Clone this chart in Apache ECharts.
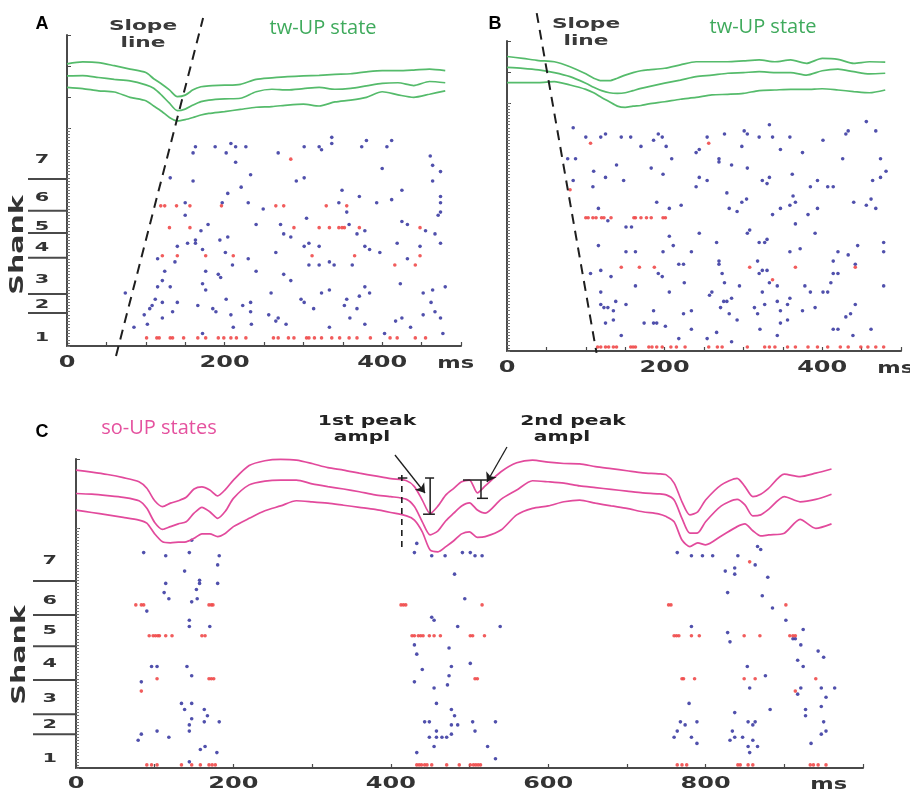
<!DOCTYPE html>
<html><head><meta charset="utf-8">
<script src="https://cdn.jsdelivr.net/npm/echarts@6/dist/echarts.min.js"></script>
<style>html,body{margin:0;padding:0;background:#fff}#c{width:910px;height:792px}</style>
</head><body><div id="c"></div>
<script>
// ---------------- colours ----------------
const GREEN = '#55bb6b', GREEN_T = '#3faa5c', PINK = '#e24a9c', PINK_T = '#e5529f';
const BLUE = '#3d3da3', RED = '#ef4a4a', AX = '#4a4a4a', TXT = '#2a2a2a';

// ---------------- Panel A ----------------
const tA = [0,20,40,60,80,100,110,120,130,140,150,160,170,180,200,220,240,260,280,300,320,340,360,380,400,420,440,460,480];
const lfpA1 = [2.07,2.13,2.11,2.01,1.90,1.79,1.59,1.42,1.23,1.01,1.06,1.23,1.33,1.36,1.38,1.41,1.57,1.62,1.66,1.68,1.70,1.73,1.75,1.81,1.85,1.85,1.87,1.90,1.85];
const lfpA2 = [1.68,1.69,1.63,1.57,1.52,1.39,1.28,1.06,0.80,0.56,0.61,0.74,0.85,0.90,0.94,0.96,1.17,1.25,1.23,1.27,1.31,1.25,1.28,1.36,1.44,1.46,1.37,1.50,1.46];
const lfpA3 = [1.31,1.27,1.20,1.16,0.99,0.88,0.71,0.54,0.34,0.23,0.27,0.34,0.42,0.47,0.53,0.60,0.67,0.69,0.74,0.77,0.71,0.84,0.90,0.99,1.17,1.07,0.99,1.09,1.20];
const blueA = [[163,64],[188,64],[202,62],[208,65],[214,64],[227,64],[160,62],[214,59],[131,54],[233,55],[160,53],[221,51],[204,49],[150,46],[197,46],[230,46],[150,42],[179,39],[240,39],[170,37],[140,32],[153,33],[163,34],[163,33],[172,31],[194,34],[204,35],[115,28],[137,27],[201,30],[210,26],[230,28],[124,24],[176,24],[121,21],[192,23],[195,22],[240,24],[172,20],[115,19],[131,19],[176,18],[74,17],[112,15],[108,13],[105,12],[121,14],[140,14],[202,15],[166,13],[134,11],[185,12],[189,11],[223,13],[233,14],[233,11],[98,10],[208,10],[121,9],[102,7],[85,6],[211,6],[234,7],[172,4],
[336,67],[336,65],[380,66],[412,66],[268,62],[301,64],[320,64],[323,63],[374,64],[406,64],[461,61],[464,58],[474,56],[400,57],[291,53],[301,54],[464,53],[349,50],[425,50],[371,48],[412,47],[474,48],[474,46],[393,46],[345,46],[249,44],[355,43],[471,42],[474,43],[304,41],[425,40],[432,39],[271,39],[358,39],[275,36],[284,35],[368,36],[378,37],[455,37],[467,36],[419,33],[474,33],[265,30],[301,32],[307,33],[320,32],[378,32],[384,31],[397,30],[448,32],[432,28],[307,26],[320,26],[333,27],[339,26],[362,26],[275,23],[284,21],[423,20],[259,17],[323,17],[333,18],[378,19],[384,17],[371,16],[452,17],[464,18],[480,19],[297,15],[301,14],[355,15],[352,13],[462,14],[313,12],[368,12],[467,11],[256,10],[268,9],[265,8],[278,7],[359,9],[417,8],[425,9],[452,10],[474,9],[333,6],[378,7],[436,6],[403,4],[477,4]];
const redA = [[284,60],
[119,45],[124,45],[139,45],[156,45],[196,45],[265,45],[275,45],[329,45],[355,45],
[130,38],[156,38],[288,38],[320,38],[333,38],[345,38],[349,38],[352,38],[371,38],[448,38],
[121,29],[140,29],[176,29],[211,29],[311,29],[365,29],[448,29],
[416,26],[442,26],
[101,2.6],[114,2.6],[117,2.6],[131,2.6],[134,2.6],[148,2.6],[166,2.6],[176,2.6],[192,2.6],[199,2.6],[208,2.6],[215,2.6],[227,2.6],[262,2.6],[268,2.6],[281,2.6],[288,2.6],[304,2.6],[307,2.6],[314,2.6],[323,2.6],[336,2.6],[346,2.6],[358,2.6],[368,2.6],[385,2.6],[410,2.6],[419,2.6],[442,2.6],[455,2.6]];
const slopeA = [[62.2,-3.2],[172.7,105.3]];
const shankSepA = [53.6,43.4,36.3,28.3,16.7,10.6];
const shankPosA = [59.7,47.8,38.2,31.5,21.2,13.2,2.6];
const xTicksA = [0,200,400];

// ---------------- Panel B ----------------
const tB = [0,20,40,60,80,100,110,120,130,140,150,160,170,180,200,220,240,260,280,300,320,340,360,380,400,420,440,460,480];
const lfpB1 = [1.50,1.44,1.37,1.33,1.17,0.94,0.80,0.72,0.72,0.80,0.90,0.98,1.04,1.07,1.12,1.23,1.33,1.33,1.33,1.36,1.39,1.33,1.39,1.28,1.44,1.41,1.28,1.33,1.32];
const lfpB2 = [1.15,1.12,1.07,0.98,0.85,0.64,0.51,0.40,0.33,0.31,0.33,0.40,0.47,0.53,0.64,0.74,0.85,0.90,0.96,0.98,1.01,0.98,0.98,0.90,1.04,1.09,1.01,0.94,0.96];
const lfpB3 = [0.66,0.66,0.66,0.69,0.58,0.44,0.33,0.18,0.04,-0.10,-0.14,-0.10,-0.08,-0.03,0.04,0.12,0.18,0.26,0.28,0.31,0.40,0.42,0.44,0.44,0.46,0.42,0.37,0.33,0.42];
const blueB = [[84,72],[100,69],[119,69],[125,70],[145,69],[157,69],[186,68],[192,70],[197,69],[170,66],[202,66],[77,62],[87,62],[209,62],[139,60],[183,59],[110,58],[198,57],[125,56],[148,55],[84,55],[109,53],[240,53],[190,48],[116,46],[206,46],[221,47],[128,42],[151,40],[158,40],[206,37],[116,34],[211,34],[151,32],[163,32],[198,32],[234,32],[218,28],[224,28],[106,25],[119,26],[132,24],[192,25],[197,24],[225,22],[163,21],[119,19],[206,19],[138,16],[119,15],[123,14],[128,14],[135,13],[151,15],[186,13],[224,12],[234,13],[135,10],[125,9],[174,9],[186,9],[190,9],[201,8],[234,7],[145,5],[218,4],[240,64],
[333,73],[456,74],[254,69],[276,70],[301,71],[305,70],[320,69],[337,69],[359,69],[401,68],[430,70],[433,71],[468,71],[244,65],[298,66],[347,65],[269,62],[269,61],[285,60],[305,59],[375,64],[426,62],[474,62],[481,58],[474,56],[464,55],[244,56],[254,55],[324,55],[330,54],[333,56],[362,57],[394,55],[385,53],[407,53],[414,53],[279,51],[304,49],[298,48],[282,46],[292,45],[347,46],[363,50],[366,48],[359,47],[337,44],[382,44],[394,46],[440,48],[456,47],[462,49],[468,46],[366,41],[244,38],[305,38],[308,39],[391,38],[266,35],[320,35],[327,35],[330,36],[359,32],[372,33],[420,32],[433,31],[445,34],[478,35],[478,32],[269,29],[269,28],[318,29],[414,29],[442,28],[273,25],[320,25],[324,26],[330,26],[414,25],[420,25],[276,22],[295,21],[333,22],[343,21],[378,21],[411,22],[478,21],[257,18],[260,19],[275,16],[279,16],[271,14],[285,17],[282,12],[292,10],[324,19],[327,15],[318,12],[343,16],[347,13],[359,17],[356,15],[347,9],[356,10],[321,7],[343,5],[375,13],[385,19],[391,14],[401,19],[407,19],[414,7],[420,7],[430,11],[436,12],[442,15],[439,5],[462,7],[254,4],[266,6],[285,3],[314,14]];
const redB = [[106,67],[256,67],[80,52],[337,23],
[100,43],[103,43],[109,43],[113,43],[120,43],[123,43],[132,43],[161,43],[163,43],[170,43],[177,43],[183,43],[198,43],[201,43],
[145,27],[168,27],[187,27],[308,27],[366,27],[442,27],
[115,1.3],[119,1.3],[125,1.3],[129,1.3],[135,1.3],[139,1.3],[157,1.3],[160,1.3],[163,1.3],[180,1.3],[184,1.3],[190,1.3],[197,1.3],[208,1.3],[215,1.3],[226,1.3],[256,1.3],[267,1.3],[273,1.3],[305,1.3],[327,1.3],[333,1.3],[340,1.3],[356,1.3],[366,1.3],[382,1.3],[394,1.3],[407,1.3],[423,1.3],[433,1.3],[449,1.3],[458,1.3],[468,1.3],[478,1.3]];
const slopeB = [[37.7,109],[113.6,-0.6]];
const xTicksB = [0,200,400];

// ---------------- Panel C ----------------
const tC = [0,20,40,60,80,90,100,110,120,130,140,150,160,170,180,190,200,220,240,260,280,300,320,340,360,380,400,420,430,440,450,460,470,480,490,500,510,520,540,560,580,600,620,640,660,680,700,720,740,750,760,770,780,790,800,820,840,850,860,870,880,900,920,940,960];
const lfpC1 = [1.68,1.62,1.55,1.46,1.34,1.15,0.79,0.62,0.72,0.79,0.89,1.13,1.19,1.10,0.93,1.12,1.39,1.81,1.95,1.99,1.97,1.87,1.75,1.68,1.59,1.51,1.43,1.37,1.20,0.81,0.42,0.64,0.96,1.15,1.34,1.39,1.02,1.22,1.63,1.89,1.97,1.91,1.87,1.86,1.78,1.72,1.66,1.60,1.57,1.54,1.30,0.76,0.38,0.47,0.81,1.25,1.44,1.20,0.91,0.98,1.15,1.56,1.49,1.59,1.71];
const lfpC2 = [1.00,0.98,0.94,0.89,0.79,0.57,0.16,-0.04,0.04,0.12,0.18,0.43,0.60,0.47,0.28,0.49,0.86,1.25,1.36,1.39,1.39,1.28,1.20,1.13,1.05,0.96,0.91,0.83,0.62,0.18,-0.20,-0.08,0.21,0.43,0.64,0.73,0.52,0.43,0.83,1.10,1.37,1.34,1.30,1.22,1.17,1.12,1.07,1.02,0.99,0.96,0.81,0.28,-0.15,-0.14,0.18,0.64,0.83,0.67,0.35,0.38,0.54,0.91,0.76,0.83,0.98];
const lfpC3 = [0.52,0.45,0.38,0.31,0.23,0.14,-0.17,-0.40,-0.43,-0.41,-0.40,-0.30,-0.17,-0.17,-0.25,-0.15,0.04,0.28,0.50,0.64,0.79,0.76,0.72,0.66,0.60,0.54,0.45,0.35,0.23,-0.11,-0.64,-0.69,-0.54,-0.37,-0.17,-0.11,-0.27,-0.25,-0.06,0.38,0.57,0.64,0.76,0.81,0.72,0.64,0.57,0.47,0.41,0.33,0.18,-0.35,-0.54,-0.43,-0.49,-0.23,0.04,0.12,-0.08,-0.23,-0.20,-0.15,0.25,-0.01,0.12];
const blueC = [[86,70],[114,69],[144,70],[182,69],[180,66],[138,64],[114,60],[157,61],[157,60],[180,60],[112,57],[153,58],[118,55],[147,54],[154,55],[90,51],[144,48],[144,46],[170,46],[96,33],[103,33],[141,33],[147,30],[83,28],[134,21],[147,21],[138,19],[163,19],[167,17],[147,16],[163,15],[182,15],[144,14],[144,12],[103,12],[83,11],[79,9],[118,10],[158,6],[164,7],[179,5],[144,2],[147,74],
[430,70],[433,73],[452,69],[469,69],[491,70],[501,70],[507,69],[516,69],[481,63],[494,55],[452,49],[455,48],[485,46],[539,46],[430,40],[474,39],[433,37],[501,34],[477,33],[440,32],[474,30],[430,28],[472,27],[455,26],[458,21],[477,19],[481,17],[443,15],[449,15],[477,14],[485,14],[504,15],[533,15],[507,12],[458,12],[449,10],[458,10],[465,10],[471,10],[477,11],[455,7],[523,7],[433,5],[533,3],
[764,70],[782,69],[796,69],[809,69],[841,69],[837,65],[837,63],[825,64],[863,66],[866,72],[870,71],[879,62],[828,57],[872,56],[885,52],[902,48],[782,46],[924,45],[828,44],[831,41],[911,42],[914,42],[921,40],[943,38],[950,36],[917,35],[924,33],[853,33],[876,30],[856,26],[921,26],[947,26],[964,26],[917,24],[953,23],[947,20],[779,21],[882,19],[927,19],[927,17],[837,18],[768,15],[774,14],[789,15],[764,12],[760,10],[782,10],[789,8],[854,15],[863,15],[860,14],[834,12],[837,10],[847,10],[831,9],[860,9],[866,7],[854,7],[856,5],[950,15],[953,12],[947,11],[934,8]];
const redC = [[856,67],[83,25],[914,25],
[76,53],[83,53],[86,53],[169,53],[172,53],[174,53],[413,53],[416,53],[419,53],[516,53],[753,53],[756,53],[902,53],
[93,43],[98,43],[101,43],[104,43],[106,43],[114,43],[122,43],[160,43],[164,43],[427,43],[430,43],[435,43],[438,43],[441,43],[449,43],[455,43],[463,43],[501,43],[504,43],[519,43],[760,43],[763,43],[766,43],[782,43],[792,43],[849,43],[869,43],[907,43],[911,43],[914,43],
[103,29],[169,29],[172,29],[175,29],[507,29],[510,29],[770,29],[772,29],[786,29],[849,29],[863,29],[940,29],
[90,1],[96,1],[103,1],[134,1],[147,1],[158,1],[169,1],[173,1],[177,1],[433,1],[436,1],[439,1],[443,1],[446,1],[452,1],[471,1],[487,1],[501,1],[505,1],[508,1],[511,1],[514,1],[764,1],[770,1],[776,1],[841,1],[844,1],[854,1],[860,1],[933,1],[937,1],[943,1],[953,1]];
const shankSepC = [60.8,49.7,39.6,28.6,17.5,11.0];
const shankPosC = [67.3,54.3,44.8,33.8,22.7,14.0,2.9];
const xTicksC = [0,200,400,600,800];
// annotation values (ms, LFP units)
const peakBars = [
  [[450,1.449],[450,0.40]], [[443.5,1.449],[455,1.449]], [[441,0.40],[456,0.40]], [[409,1.449],[421,1.449]],
  [[491.7,1.391],[522.2,1.391]], [[514.6,1.391],[514.6,0.86]], [[509.5,0.86],[523.5,0.86]]
];
const peakDash = [[414,1.536],[414,-0.58]];
const arrowsC = [ [[405.3,2.116],[443.5,1.014]], [[547.6,2.348],[522.2,1.333]] ];
const shankNames = ['7','6','5','4','3','2','1'];

// ---------------- chart ----------------
const chart = echarts.init(document.getElementById('c'));
const grids = [
  {left:67, top:35, width:394, height:93},     // 0 A LFP
  {left:67, top:128, width:394, height:218},   // 1 A raster
  {left:28, top:128, width:39, height:218},    // 2 A shank labels
  {left:507, top:41, width:394, height:62},    // 3 B LFP
  {left:507, top:103, width:394, height:248},  // 4 B raster
  {left:76, top:459, width:787, height:69},    // 5 C LFP
  {left:76, top:528, width:787, height:240},   // 6 C raster
  {left:33, top:528, width:43, height:240},    // 7 C shank labels
  {left:76, top:390, width:787, height:179.4}  // 8 C annotation overlay
];
const hidden = {show:false};
function xAx(gi, max, interval, show){
  return {gridIndex:gi, type:'value', min:0, max:max, interval:interval, show:show,
    axisLine:{onZero:false, lineStyle:{color:AX, width:2}},
    axisTick:{inside:true, length:4, lineStyle:{color:AX, width:1.2}},
    axisLabel:hidden, splitLine:hidden};
}
function yAx(gi, min, max, tickLen, tickColor, show){
  return {gridIndex:gi, type:'value', min:min, max:max, interval:1, show:show,
    axisLine:{show:true, onZero:false, lineStyle:{color:AX, width:2}},
    axisTick:{inside:true, length:tickLen, lineStyle:{color:tickColor, width:1}},
    axisLabel:hidden, splitLine:hidden};
}
const xAxis = [xAx(0,500,50,false), xAx(1,500,50,true), xAx(2,1,1,false), xAx(3,500,50,false), xAx(4,500,50,true),
               xAx(5,1000,100,false), xAx(6,1000,100,true), xAx(7,1,1,false), xAx(8,1000,100,false)];
const yAxis = [yAx(0,0,3,4,AX,true), yAx(1,0,70,3,'#777',true), yAx(2,0,70,3,AX,false),
               yAx(3,0,2,4,AX,true), yAx(4,0,80,3,'#777',true),
               yAx(5,0,2,4,AX,true), yAx(6,0,78,3,'#777',true), yAx(7,0,78,3,AX,false),
               {gridIndex:8, type:'value', min:-1.2, max:4, show:false}];

const S = [];
function lfp(gi, t, v, color){
  S.push({type:'line', xAxisIndex:gi, yAxisIndex:gi, data:t.map((x,i)=>[x, v[i]]), symbol:'none', showSymbol:false,
    clip:false, smooth:0.25, silent:true, z:4, lineStyle:{color:color, width:1.7}});
}
function dots(gi, pts, color){
  S.push({type:'scatter', xAxisIndex:gi, yAxisIndex:gi, data:pts, symbol:'circle', symbolSize:3.6,
    silent:true, z:3, itemStyle:{color:color, opacity:0.9}});
}
function seg(gi, pts, width, dash, extra){
  S.push(Object.assign({type:'line', xAxisIndex:gi, yAxisIndex:gi, data:pts, symbol:'none', showSymbol:false,
    clip:false, silent:true, z:6, lineStyle:{color:'#1e1e1e', width:width, type:dash || 'solid'}}, extra || {}));
}
lfp(0,tA,lfpA1,GREEN); lfp(0,tA,lfpA2,GREEN); lfp(0,tA,lfpA3,GREEN);
dots(1,blueA,BLUE); dots(1,redA,RED);
seg(1,slopeA,2,[10,7]);
shankSepA.forEach(s=>seg(2,[[0,s],[1,s]],2,'solid',{lineStyle:{color:AX,width:2}}));

lfp(3,tB,lfpB1,GREEN); lfp(3,tB,lfpB2,GREEN); lfp(3,tB,lfpB3,GREEN);
dots(4,blueB,BLUE); dots(4,redB,RED);
seg(4,slopeB,2,[10,7]);

lfp(5,tC,lfpC1,PINK); lfp(5,tC,lfpC2,PINK); lfp(5,tC,lfpC3,PINK);
dots(6,blueC,BLUE); dots(6,redC,RED);
shankSepC.forEach(s=>seg(7,[[0,s],[1,s]],2,'solid',{lineStyle:{color:AX,width:2}}));
peakBars.forEach((p,i)=>seg(8,p,1.5,'solid', i===0 ? {markLine:{silent:true, symbol:['none','arrow'], symbolSize:9,
  label:{show:false}, lineStyle:{color:'#1e1e1e', width:1.3, type:'solid'},
  data:arrowsC.map(a=>[{coord:a[0]},{coord:a[1]}])}} : null));
seg(8,peakDash,1.6,[6,5]);

chart.setOption({animation:false, backgroundColor:'#fff', grid:grids, xAxis:xAxis, yAxis:yAxis, series:S});

// ---------------- texts ----------------
const G = [];
function txt(x, y, text, o){
  o = o || {};
  G.push({type:'text', x:x, y:y, scaleX:o.sx || 1, rotation:o.rot || 0, silent:true, z:100,
    style:{text:text, font:o.font || '15px "DejaVu Sans"', fill:o.fill || TXT, textAlign:o.align || 'center', textVerticalAlign:'middle'}});
}
const tickFont = 'bold 15px "DejaVu Sans"';
[[1,xTicksA,17,470],[4,xTicksB,17,470],[6,xTicksC,16,933]].forEach(([gi,ticks,dy,unitAt])=>{
  ticks.forEach(t=>{ const p = chart.convertToPixel({gridIndex:gi},[t,0]); txt(p[0], p[1]+dy, String(t), {font:tickFont, sx:1.6, fill:'#333'}); });
  const u = chart.convertToPixel({gridIndex:gi},[unitAt,0]);
  txt(u[0], u[1]+dy+1, 'ms', {font:tickFont, sx:1.5, align:'left', fill:'#333'});
});
[[2,shankPosA,0.36],[7,shankPosC,0.39]].forEach(([gi,pos,fx])=>{
  pos.forEach((v,i)=>{ const p = chart.convertToPixel({gridIndex:gi},[fx,v]); txt(p[0], p[1], shankNames[i], {font:'bold 13px "DejaVu Sans"', sx:1.6, fill:'#333'}); });
});
txt(18, 245, 'Shank', {font:'bold 19px "DejaVu Sans"', sx:1.5, rot:Math.PI/2, fill:'#333'});
txt(20, 655, 'Shank', {font:'bold 19px "DejaVu Sans"', sx:1.5, rot:Math.PI/2, fill:'#333'});
// panel letters and titles
txt(42, 24, 'A', {font:'bold 18px "Liberation Sans"', fill:'#000'});
txt(495, 24, 'B', {font:'bold 18px "Liberation Sans"', fill:'#000'});
txt(42, 432, 'C', {font:'bold 18px "Liberation Sans"', fill:'#000'});
txt(323, 28, 'tw-UP state', {font:'20px "Open Sans"', fill:GREEN_T});
txt(763, 27, 'tw-UP state', {font:'20px "Open Sans"', fill:GREEN_T});
txt(159, 428, 'so-UP states', {font:'20px "Open Sans"', fill:PINK_T});
const annFont = 'bold 14px "DejaVu Sans"';
txt(143, 26, 'Slope', {font:annFont, sx:1.55, fill:'#3a3a3a'});
txt(143, 43, 'line', {font:annFont, sx:1.55, fill:'#3a3a3a'});
txt(586, 24, 'Slope', {font:annFont, sx:1.55, fill:'#3a3a3a'});
txt(586, 41, 'line', {font:annFont, sx:1.55, fill:'#3a3a3a'});
txt(367, 421, '1st peak', {font:annFont, sx:1.45, fill:'#222'});
txt(362, 437, 'ampl', {font:annFont, sx:1.45, fill:'#222'});
txt(573, 421, '2nd peak', {font:annFont, sx:1.45, fill:'#222'});
txt(562, 437, 'ampl', {font:annFont, sx:1.45, fill:'#222'});
chart.setOption({graphic:G});
</script></body></html>
